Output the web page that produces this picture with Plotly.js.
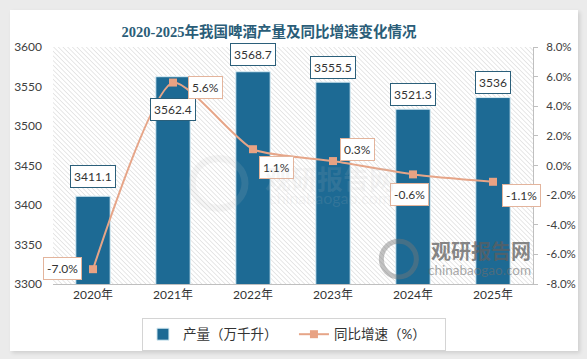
<!DOCTYPE html>
<html>
<head>
<meta charset="utf-8">
<script src="https://cdn.plot.ly/plotly-3.0.1.min.js"></script>
<style>
html,body{margin:0;padding:0;background:#ebebeb;}
#wrap{position:relative;width:587px;height:359px;background:#ebebeb;overflow:hidden;}
#card{position:absolute;left:10px;top:10px;width:568px;height:341px;background:#fff;box-shadow:2px 2px 4px rgba(0,0,0,0.12);}
</style>
</head>
<body>
<div id="wrap"><div id="card"></div></div>
<script>
// ---- data ----
const years = ["2020年", "2021年", "2022年", "2023年", "2024年", "2025年"];
const output = [3411.1, 3562.4, 3568.7, 3555.5, 3521.3, 3536];
const growth = [-7.0, 5.6, 1.1, 0.3, -0.6, -1.1];
const outputLabels = ["3411.1", "3562.4", "3568.7", "3555.5", "3521.3", "3536"];
const growthLabels = ["-7.0%", "5.6%", "1.1%", "0.3%", "-0.6%", "-1.1%"];
const leftTicks = [3300, 3350, 3400, 3450, 3500, 3550, 3600];
const rightTicks = [-8, -6, -4, -2, 0, 2, 4, 6, 8];
const rightTickText = ["-8.0%", "-6.0%", "-4.0%", "-2.0%", "0.0%", "2.0%", "4.0%", "6.0%", "8.0%"];
const seriesNames = ["产量（万千升）", "同比增速（%）"];
const titleText = "2020-2025年我国啤酒产量及同比增速变化情况";

// ---- label offsets (px) ----
const barLabelShift = [20, -33, 17, 15, 15, 15];
const lineLabelShift = [[-31, 1], [32, -5], [23, -18], [24, 12], [-4, -20], [28, -14]];

const FONT = "Lato, 'Noto Sans CJK SC', sans-serif";

const barTrace = {
  type: "bar", x: years, y: output, name: seriesNames[0],
  width: 0.43,
  marker: {color: "#1d6a94", line: {color: "#d8ecf4", width: 1}},
  yaxis: "y", hoverinfo: "skip"
};
const lineTrace = {
  type: "scatter", mode: "lines+markers", x: years, y: growth, name: seriesNames[1],
  yaxis: "y2",
  line: {color: "#e6a588", width: 2, shape: "spline", smoothing: 0.6},
  marker: {symbol: "square", size: 8, color: "#e8a283"},
  hoverinfo: "skip"
};

const annotations = [];
years.forEach((yr, i) => {
  annotations.push({
    x: yr, y: output[i], xref: "x", yref: "y", text: outputLabels[i],
    showarrow: false, yshift: barLabelShift[i],
    bgcolor: "#ffffff", bordercolor: "#2b5f7a", borderwidth: 1, borderpad: 3,
    font: {family: FONT, size: 12, color: "#333333"}
  });
  annotations.push({
    x: yr, y: growth[i], xref: "x", yref: "y2", text: growthLabels[i],
    showarrow: false, xshift: lineLabelShift[i][0], yshift: lineLabelShift[i][1],
    bgcolor: "#ffffff", bordercolor: "#e3b49c", borderwidth: 1, borderpad: 3,
    font: {family: FONT, size: 12, color: "#333333"}
  });
});
// watermarks
annotations.push({xref: "paper", yref: "paper", x: 0.577, y: 0.451, yanchor: "middle", text: "<b>观研报告网</b>", showarrow: false,
  font: {family: "'Noto Sans CJK SC'", size: 26, color: "rgba(190,190,190,0.14)"}});
annotations.push({xref: "paper", yref: "paper", x: 0.577, y: 0.363, yanchor: "middle", text: "chinabaogao.com", showarrow: false,
  font: {family: FONT, size: 16, color: "rgba(190,190,190,0.14)"}});
annotations.push({xref: "paper", yref: "paper", x: 0.999, y: 0.143, xanchor: "right", yanchor: "middle", text: "<b>观研报告网</b>", showarrow: false,
  font: {family: "'Noto Sans CJK SC'", size: 20, color: "rgba(95,95,95,0.75)"}});
annotations.push({xref: "paper", yref: "paper", x: 0.999, y: 0.059, xanchor: "right", yanchor: "middle", text: "chinabaogao.com", showarrow: false,
  font: {family: FONT, size: 13.5, color: "rgba(110,110,110,0.6)"}});

const hatchSvg = "<svg xmlns='http://www.w3.org/2000/svg' width='480' height='237'><defs><pattern id='p' width='3.3' height='3.3' patternUnits='userSpaceOnUse' patternTransform='rotate(-45)'><line x1='0' y1='0' x2='0' y2='3.3' stroke='#cfcfcf' stroke-width='1'/></pattern></defs><rect width='480' height='237' fill='url(#p)'/></svg>";

const layout = {
  width: 568, height: 341,
  margin: {l: 43, r: 45, t: 37, b: 67, autoexpand: false},
  paper_bgcolor: "#ffffff", plot_bgcolor: "rgba(0,0,0,0)",
  font: {family: FONT, size: 12, color: "#404040"},
  title: {text: titleText, x: 0.456, xref: "container", xanchor: "center", y: 0.935, yref: "container", yanchor: "middle",
    font: {family: "'Liberation Serif', 'Noto Sans CJK SC', serif", size: 14.5, color: "#2a5d78", weight: "bold"}},
  xaxis: {type: "category", range: [-0.5, 5.5], showline: true, linecolor: "#bfbfbf", linewidth: 1, ticks: "", showgrid: false,
    tickfont: {size: 12, color: "#333333"}, fixedrange: true, automargin: false},
  yaxis: {range: [3300, 3600], tickvals: leftTicks, showgrid: false, zeroline: false, showline: false, ticks: "",
    ticklabelstandoff: 10, tickfont: {size: 12, color: "#404040"}, automargin: false},
  yaxis2: {range: [-8, 8], tickvals: rightTicks, ticktext: rightTickText, overlaying: "y", side: "right", showgrid: false, zeroline: false,
    showline: true, linecolor: "#bfbfbf", ticks: "outside", ticklen: 4, tickcolor: "#bfbfbf",
    ticklabelstandoff: 6, tickfont: {size: 11.5, color: "#404040"}, automargin: false},
  showlegend: true,
  legend: {orientation: "h", x: 0.502, xanchor: "center", xref: "paper", y: 0.097, yref: "container", yanchor: "top",
    bordercolor: "#d4d4d4", borderwidth: 1, bgcolor: "#ffffff", entrywidth: 106, entrywidthmode: "pixels",
    font: {family: FONT, size: 13.5, color: "#333333"}, itemwidth: 30, traceorder: "normal"},
  shapes: [
    {type: "circle", xref: "paper", yref: "paper", x0: 0.684, x1: 0.757, y0: 0.03, y1: 0.18,
      line: {color: "rgba(120,120,120,0.45)", width: 5}, fillcolor: "rgba(0,0,0,0)", layer: "above"},
    {type: "circle", xref: "paper", yref: "paper", x0: 0.29, x1: 0.4, y0: 0.32, y1: 0.53,
      line: {color: "rgba(190,190,190,0.14)", width: 7}, fillcolor: "rgba(0,0,0,0)", layer: "above"}
  ],
  images: [{source: "data:image/svg+xml;charset=utf-8," + encodeURIComponent(hatchSvg),
    xref: "paper", yref: "paper", x: 0, y: 1, sizex: 1, sizey: 1, sizing: "stretch", layer: "below",
    xanchor: "left", yanchor: "top"}],
  annotations: annotations
};

Plotly.newPlot("card", [barTrace, lineTrace], layout, {displayModeBar: false, staticPlot: true});
</script>
</body>
</html>
